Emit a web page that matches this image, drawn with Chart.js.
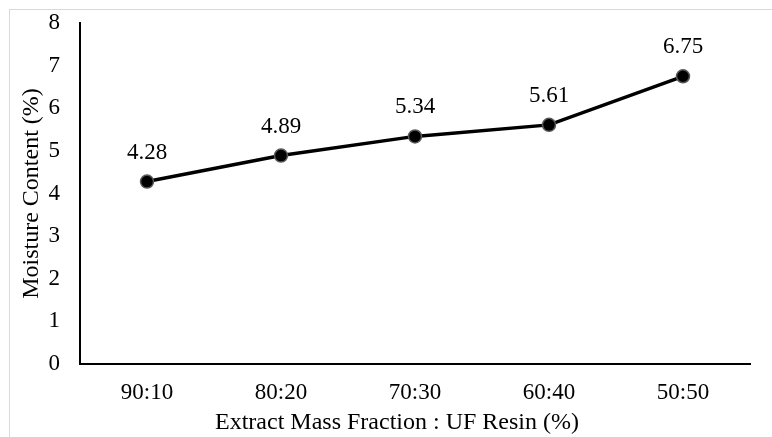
<!DOCTYPE html>
<html>
<head>
<meta charset="utf-8">
<script src="https://cdn.jsdelivr.net/npm/chart.js@4.4.1/dist/chart.umd.min.js"></script>
<style>
  html, body { margin: 0; padding: 0; background: #fff; }
  #wrap { width: 772px; height: 437px; position: relative; }
</style>
</head>
<body>
<div id="wrap"><canvas id="myChart" width="772" height="437"></canvas></div>
<script>
// data
const categories = ['90:10', '80:20', '70:30', '60:40', '50:50'];
const moisture = [4.28, 4.89, 5.34, 5.61, 6.75];
const yTicks = [0, 1, 2, 3, 4, 5, 6, 7, 8];
const xTitle = 'Extract Mass Fraction : UF Resin (%)';
const yTitle = 'Moisture Content (%)';

const serif = "'Liberation Serif', 'Times New Roman', serif";

// light frame like the excel chart border
const framePlugin = {
    id: 'frame',
    beforeDraw(chart) {
        const c = chart.ctx;
        c.save();
        c.fillStyle = '#fff';
        c.fillRect(0, 0, chart.width, chart.height);
        c.strokeStyle = '#d9d9d9';
        c.lineWidth = 1;
        c.strokeRect(9.5, 9.5, 900, 600);
        c.restore();
    }
};

// value labels above each point + x title centred on the whole chart (like excel)
const labelPlugin = {
    id: 'valueLabels',
    afterDatasetsDraw(chart) {
        const c = chart.ctx;
        const meta = chart.getDatasetMeta(0);
        c.save();
        c.font = '23px ' + serif;
        c.fillStyle = '#000';
        c.textAlign = 'center';
        c.textBaseline = 'middle';
        meta.data.forEach(function (pt, i) {
            c.fillText(moisture[i].toFixed(2), pt.x, pt.y - 29);
        });
        c.font = '24px ' + serif;
        c.fillText(xTitle, 397, 423);
        c.restore();
    }
};

const ctx = document.getElementById('myChart');
const myChart = new Chart(ctx, {
    type: 'line',
    data: {
        labels: categories,
        datasets: [{
            data: moisture,
            borderColor: '#000',
            borderWidth: 3.5,
            pointRadius: 6.5,
            pointBackgroundColor: '#000',
            pointBorderColor: '#595959',
            pointBorderWidth: 1.5,
            tension: 0
        }]
    },
    options: {
        responsive: false,
        animation: false,
        events: [],
        layout: { padding: { top: 23, right: 22, left: 0, bottom: 0 } },
        plugins: { legend: { display: false }, tooltip: { enabled: false } },
        scales: {
            x: {
                offset: true,
                grid: { display: false, drawTicks: false },
                border: { color: '#000', width: 2 },
                ticks: { color: '#000', font: { family: serif, size: 23 }, padding: 15, maxRotation: 0 },
                afterFit(axis) { axis.height = 73; axis.paddingLeft = 0; axis.paddingRight = 0; }
            },
            y: {
                min: 0,
                max: 8,
                grid: { display: false, drawTicks: false },
                border: { color: '#000', width: 2 },
                afterBuildTicks(axis) { axis.ticks = yTicks.map(v => ({ value: v })); },
                ticks: { color: '#000', font: { family: serif, size: 23 }, padding: 20 },
                title: { display: true, text: yTitle, color: '#000',
                         font: { family: serif, size: 24 }, padding: { top: 17, bottom: 0 } },
                afterFit(axis) { axis.width = 80; axis.paddingTop = 0; axis.paddingBottom = 0; }
            }
        }
    },
    plugins: [framePlugin, labelPlugin]
});
</script>
</body>
</html>
